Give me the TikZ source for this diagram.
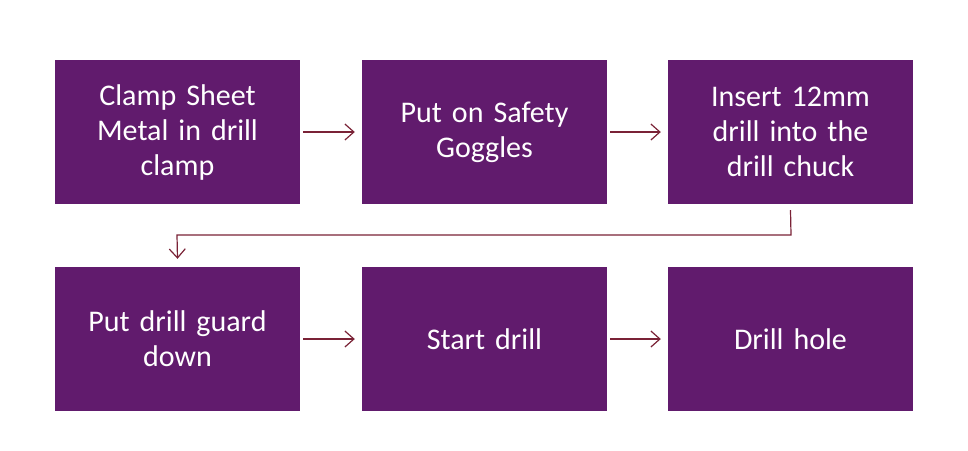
\documentclass[tikz,border=0pt]{standalone}
\usepackage{fontspec}
\setmainfont{Carlito}
\usetikzlibrary{arrows.meta}
\definecolor{boxpurple}{HTML}{611B6D}
\definecolor{linered}{HTML}{7A2236}
\begin{document}
\begin{tikzpicture}[x=1pt,y=-1pt,
  stepbox/.style={fill=boxpurple,draw=none,minimum width=245pt,minimum height=144pt,
    text width=220pt,align=center,text=white,font=\fontsize{30}{35}\selectfont,inner sep=0pt},
  conn/.style={draw=linered,line width=1.2pt,-{Straight Barb[length=9pt,width=16pt,line width=1.2pt]}}]
\useasboundingbox (0,0) rectangle (968,450);
\node[stepbox] (a) at (177.5,132) {Clamp Sheet\\Metal in drill\\clamp};
\node[stepbox] (b) at (484.5,132) {Put on Safety\\Goggles};
\node[stepbox] (c) at (790.5,132) {Insert 12mm\\drill into the\\drill chuck};
\node[stepbox] (d) at (177.5,339) {Put drill guard\\down};
\node[stepbox] (e) at (484.5,339) {Start drill};
\node[stepbox] (f) at (790.5,339) {Drill hole};
\draw[conn] ([xshift=3pt]a.east) -- ([xshift=-7pt]b.west);
\draw[conn] ([xshift=3pt]b.east) -- ([xshift=-7pt]c.west);
\draw[conn] ([xshift=3pt]d.east) -- ([xshift=-7pt]e.west);
\draw[conn] ([xshift=3pt]e.east) -- ([xshift=-7pt]f.west);
\coordinate (c1) at (791,235);
\coordinate (c2) at (177,235);
\draw[conn] ([yshift=-6pt]c.south) -- (c1) -- (c2) -- ([yshift=8pt]d.north);
\end{tikzpicture}
\end{document}
